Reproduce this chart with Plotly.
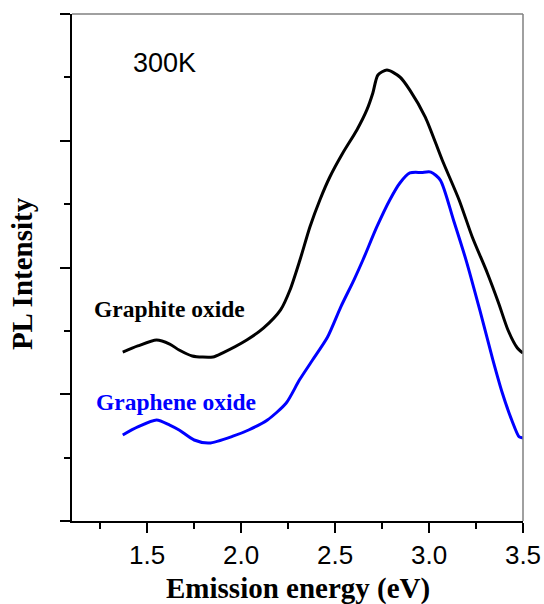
import plotly.graph_objects as go

# Emission energy (eV) and PL intensity (arb. units)
graphite_x = [1.37, 1.45, 1.55, 1.62, 1.67, 1.74, 1.85, 1.90, 2.03, 2.12, 2.21, 2.26, 2.313,
              2.366, 2.419, 2.472, 2.541, 2.616, 2.669, 2.701, 2.728, 2.776, 2.845, 2.898,
              2.98, 3.07, 3.16, 3.23, 3.31, 3.37, 3.42, 3.47, 3.50]
graphite_y = [1.333, 1.381, 1.428, 1.396, 1.349, 1.302, 1.294, 1.325, 1.428, 1.523, 1.665,
              1.822, 2.059, 2.320, 2.533, 2.714, 2.903, 3.085, 3.243, 3.377, 3.519, 3.558,
              3.503, 3.400, 3.187, 2.848, 2.533, 2.241, 1.957, 1.720, 1.507, 1.365, 1.325]

graphene_x = [1.37, 1.45, 1.55, 1.62, 1.67, 1.75, 1.83, 1.96, 2.04, 2.14, 2.24, 2.31, 2.38,
              2.46, 2.53, 2.60, 2.648, 2.722, 2.791, 2.845, 2.898, 2.96, 3.01, 3.06, 3.13,
              3.20, 3.27, 3.34, 3.39, 3.44, 3.48, 3.50]
graphene_y = [0.679, 0.742, 0.797, 0.757, 0.718, 0.639, 0.615, 0.671, 0.718, 0.797, 0.931,
              1.112, 1.270, 1.452, 1.688, 1.901, 2.059, 2.320, 2.533, 2.667, 2.746, 2.750,
              2.753, 2.690, 2.375, 2.043, 1.665, 1.270, 1.010, 0.797, 0.663, 0.655]

x_ticks = [1.5, 2.0, 2.5, 3.0, 3.5]
x_tick_labels = ["1.5", "2.0", "2.5", "3.0", "3.5"]

fig = go.Figure()
fig.add_trace(go.Scatter(x=graphite_x, y=graphite_y, mode="lines",
                         line=dict(color="black", width=3, shape="spline", smoothing=0.7),
                         name="Graphite oxide", showlegend=False))
fig.add_trace(go.Scatter(x=graphene_x, y=graphene_y, mode="lines",
                         line=dict(color="#0000ff", width=3, shape="spline", smoothing=0.7),
                         name="Graphene oxide", showlegend=False))

serif = "Liberation Serif, Times New Roman, serif"
sans = "Liberation Sans, Arial, sans-serif"

fig.update_layout(
    width=544, height=604,
    margin=dict(l=72, r=21, t=14, b=83),
    paper_bgcolor="white", plot_bgcolor="white",
    xaxis=dict(range=[1.1, 3.5], tickvals=x_ticks, ticktext=x_tick_labels, automargin=False,
               showgrid=False, zeroline=False, showline=True, linecolor="black", linewidth=2,
               ticks="outside", ticklen=10, tickwidth=2, tickcolor="black",
               tickfont=dict(family=sans, size=26, color="black"),
               minor=dict(tick0=1.25, dtick=0.5, ticks="outside", ticklen=6,
                          tickwidth=2, tickcolor="black")),
    yaxis=dict(range=[0, 4], tick0=0, dtick=1, showticklabels=False, automargin=False,
               showgrid=False, zeroline=False, showline=True, linecolor="black", linewidth=2,
               ticks="outside", ticklen=10, tickwidth=2, tickcolor="black",
               minor=dict(tick0=0.5, dtick=1, ticks="outside", ticklen=6,
                          tickwidth=2, tickcolor="black")),
    shapes=[
        dict(type="line", xref="paper", yref="paper", x0=0, x1=1, y0=1, y1=1,
             line=dict(color="#808080", width=1.5)),
        dict(type="line", xref="paper", yref="paper", x0=1, x1=1, y0=0, y1=1,
             line=dict(color="#808080", width=1.5)),
    ],
    annotations=[
        dict(text="300K", x=1.592, y=3.613, xref="x", yref="y", showarrow=False,
             font=dict(family=sans, size=27, color="black")),
        dict(text="<b>Graphite oxide</b>", x=1.618, y=1.675, xref="x", yref="y",
             showarrow=False, font=dict(family=serif, size=23.5, color="black")),
        dict(text="<b>Graphene oxide</b>", x=1.655, y=0.941, xref="x", yref="y",
             showarrow=False, font=dict(family=serif, size=23.5, color="#0000ff")),
        dict(text="<b>Emission energy (eV)</b>", xref="paper", yref="paper", x=0.5, y=0,
             yanchor="middle", yshift=-67, showarrow=False,
             font=dict(family=serif, size=29, color="black")),
        dict(text="<b>PL Intensity</b>", xref="paper", yref="paper", x=0, y=0.487,
             xanchor="center", xshift=-50, textangle=-90, showarrow=False,
             font=dict(family=serif, size=29, color="black")),
    ],
)

fig.write_html("out.html")
